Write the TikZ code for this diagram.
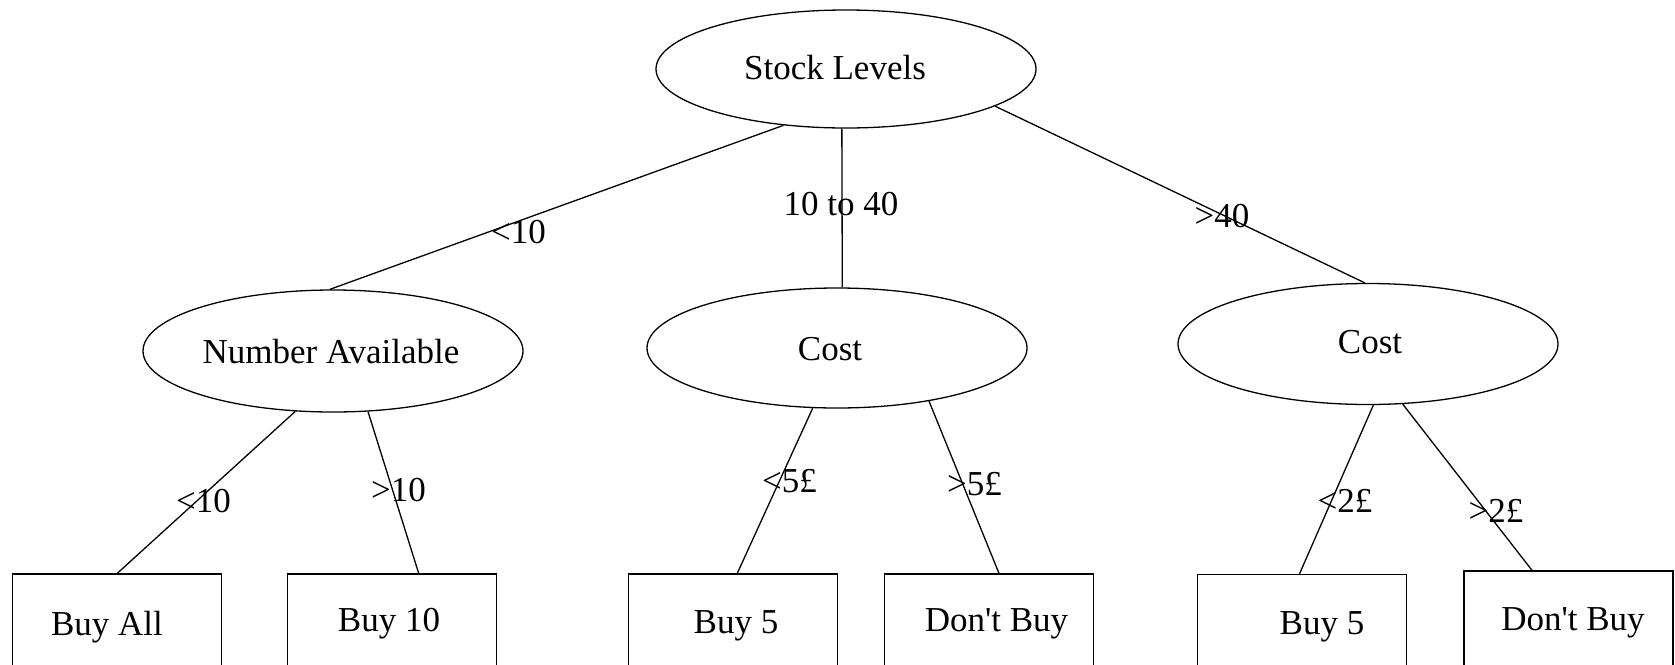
\documentclass[tikz,border=0pt]{standalone}
\usepackage{fontspec}
\setmainfont{Liberation Serif}
\usetikzlibrary{shapes.geometric,calc}
\begin{document}
\begin{tikzpicture}[x=1pt,y=-1pt,
  every node/.style={font=\fontsize{35}{42}\selectfont},
  dec/.style={draw, ellipse, line width=1.3pt, inner sep=0pt, minimum width=380pt},
  leaf/.style={draw, rectangle, line width=1.3pt, inner sep=0pt, minimum height=100pt, minimum width=209pt},
  lbl/.style={anchor=base, inner sep=0pt},
  conn/.style={line width=1.3pt}]
\useasboundingbox (0,0) rectangle (1675,664);
\clip (0,0) rectangle (1675,664);

% decision nodes
\node[dec, minimum height=118pt] (root) at (846,69) {};
\node[lbl] (troot) at (835,79) {Stock Levels};
\node[dec, minimum height=122pt] (na) at (333,351) {};
\node[lbl] (tna) at (331,363) {Number Available};
\node[dec, minimum height=120pt] (c1) at (837,348) {};
\node[lbl] (tc1) at (830,360) {Cost};
\node[dec, minimum height=121pt] (c2) at (1368,344) {};
\node[lbl] (tc2) at (1370,353) {Cost};

% leaves
\node[leaf] (b1) at (117.25,624) {};
\node[lbl] (t1) at (107,635) {Buy All};
\node[leaf] (b2) at (391.7,624) {};
\node[lbl] (t2) at (389,631) {Buy 10};
\node[leaf] (b3) at (732.75,624) {};
\node[lbl] (t3) at (736,633) {Buy 5};
\node[leaf] (b4) at (989,624) {};
\node[lbl] (t4) at (996.5,631) {Don\textquotesingle t Buy};
\node[leaf] (b5) at (1302,624.5) {};
\node[lbl] (t5) at (1322,634) {Buy 5};
\node[leaf] (b6) at (1568.5,621) {};
\node[lbl] (t6) at (1573,630) {Don\textquotesingle t Buy};

% connectors
\draw[conn] (root.222) -- (na.93);
\draw[conn] (root.266) -- (c1.85);
\draw[conn] (root.346) -- (c2.93);
\draw[conn] (na.238) -- (b1.north);
\draw[conn] (na.300) -- ([xshift=27pt]b2.north);
\draw[conn] (c1.248) -- ([xshift=4.5pt]b3.north);
\draw[conn] (c1.330) -- ([xshift=10pt]b4.north);
\draw[conn] (c2.275) -- ([xshift=-2.5pt]b5.north);
\draw[conn] (c2.300) -- ([xshift=-36.5pt]b6.north);

% edge labels
\node[lbl] (l1) at (518.5,243) {<10};
\node[lbl] (l2) at (841,215) {10 to 40};
\node[lbl] (l3) at (1222,227) {>40};
\node[lbl] (l4) at (203.5,512) {<10};
\node[lbl] (l5) at (398.5,501) {>10};
\node[lbl] (l6) at (789.5,492) {<5£};
\node[lbl] (l7) at (974.5,495) {>5£};
\node[lbl] (l8) at (1345,512) {<2£};
\node[lbl] (l9) at (1496,522) {>2£};
\end{tikzpicture}
\end{document}
